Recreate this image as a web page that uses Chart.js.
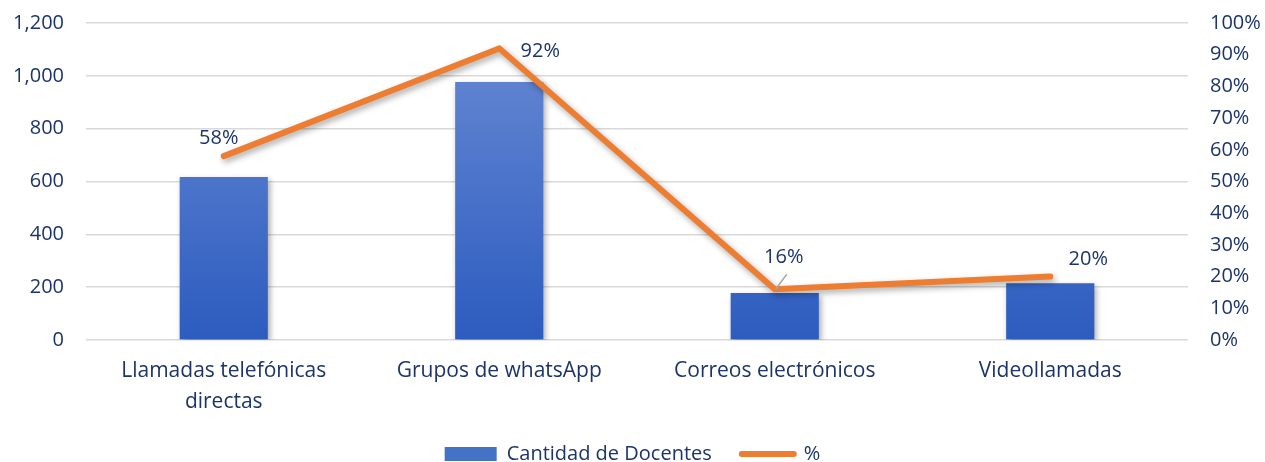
<!DOCTYPE html>
<html><head><meta charset="utf-8">
<script src="https://cdn.jsdelivr.net/npm/chart.js@4.4.0/dist/chart.umd.min.js"></script>
<style>html,body{margin:0;padding:0;background:#fff;}#wrap{width:1265px;height:462px;}</style>
</head><body><div id="wrap"><canvas id="c" width="1265" height="462"></canvas></div>
<script>
const categories = [['Llamadas telefónicas','directas'], 'Grupos de whatsApp', 'Correos electrónicos', 'Videollamadas'];
const docentes = [617, 977, 178, 215];
const porcentaje = [0.58, 0.92, 0.16, 0.20];
const porcentajeLabels = ['58%', '92%', '16%', '20%'];
const leftTicks = [0, 200, 400, 600, 800, 1000, 1200];
const seriesNames = ['Cantidad de Docentes', '%'];

const TEXT = '#1c3468';
const FONT = '"Open Sans", Lato, sans-serif';
const FS = 20;
const FS_CAT = 21;

function barGradient(ctx) {
  const ca = ctx.chart.chartArea;
  if (!ca) return '#4472c4';
  const g = ctx.chart.ctx.createLinearGradient(0, ca.top, 0, ca.bottom);
  g.addColorStop(0, '#6a8bd4');
  g.addColorStop(1, '#2c5cbf');
  return g;
}

const shadowPlugin = {
  id: 'shadow',
  beforeDatasetDraw(chart, args) {
    const c = chart.ctx; c.save();
    c.shadowColor = 'rgba(0,0,0,0.35)'; c.shadowBlur = 6; c.shadowOffsetX = 2; c.shadowOffsetY = 3;
  },
  afterDatasetDraw(chart) { chart.ctx.restore(); }
};

const labelOffsets = [[-5, -18, false], [41, 3, false], [9, -32, true], [38, -17, false]];
const lineLabelPlugin = {
  id: 'lineLabels',
  afterDatasetsDraw(chart) {
    const meta = chart.getDatasetMeta(1);
    const c = chart.ctx; c.save();
    c.font = FS + 'px ' + FONT; c.fillStyle = TEXT; c.textAlign = 'center'; c.textBaseline = 'middle';
    meta.data.forEach((pt, i) => {
      const [dx, dy, leader] = labelOffsets[i];
      if (leader) {
        c.strokeStyle = '#a6a6a6'; c.lineWidth = 1.5;
        c.beginPath(); c.moveTo(pt.x + 1, pt.y); c.lineTo(pt.x + 12, pt.y - 15); c.stroke();
      }
      c.fillText(porcentajeLabels[i], pt.x + dx, pt.y + dy);
    });
    c.restore();
  }
};

const legendFitPlugin = {
  id: 'legendFit',
  afterInit(chart) {
    const lg = chart.legend; const orig = lg.fit;
    lg.fit = function () { orig.call(this); this.height = 48; };
  }
};

new Chart(document.getElementById('c'), {
  data: {
    labels: categories,
    datasets: [
      { type: 'bar', label: seriesNames[0], data: docentes, yAxisID: 'y', backgroundColor: barGradient,
        barPercentage: 0.32, categoryPercentage: 1, order: 2 },
      { type: 'line', label: seriesNames[1], data: porcentaje, yAxisID: 'y1', borderColor: '#ed7d31',
        backgroundColor: '#ed7d31', borderWidth: 6, pointRadius: 0, borderCapStyle: 'round', borderJoinStyle: 'miter', order: 1 }
    ]
  },
  options: {
    responsive: false, animation: false, devicePixelRatio: 1,
    layout: { padding: { top: 23, left: 0, right: 0, bottom: 0 } },
    plugins: {
      tooltip: { enabled: false },
      legend: {
        position: 'bottom',
        labels: {
          color: TEXT, font: { family: FONT, size: FS }, padding: 30,
          usePointStyle: true, pointStyleWidth: 52, boxHeight: 14,
          generateLabels(chart) {
            return [
              { text: seriesNames[0], fillStyle: '#4472c4', strokeStyle: '#4472c4', lineWidth: 0, pointStyle: 'rect', datasetIndex: 0, fontColor: TEXT },
              { text: seriesNames[1], fillStyle: '#ed7d31', strokeStyle: '#ed7d31', lineWidth: 6, lineCap: 'round', pointStyle: 'line', datasetIndex: 1, fontColor: TEXT }
            ];
          }
        }
      }
    },
    scales: {
      x: {
        grid: { display: false, drawTicks: false }, border: { display: false },
        ticks: { color: TEXT, font: { family: FONT, size: FS_CAT, lineHeight: 1.45 }, padding: 16, maxRotation: 0, autoSkip: false },
        afterFit(s) { s.height = 74; }
      },
      y: {
        position: 'left', min: 0, max: 1200,
        grid: { color: '#d9d9d9', lineWidth: 1.5, drawTicks: false }, border: { display: false },
        afterBuildTicks(s) { s.ticks = leftTicks.map(v => ({ value: v })); },
        ticks: { color: TEXT, font: { family: FONT, size: FS }, padding: 22,
          callback: v => v.toLocaleString('en-US') },
        afterFit(s) { s.width = 86; s.paddingTop = 0; s.paddingBottom = 0; }
      },
      y1: {
        position: 'right', min: 0, max: 1,
        grid: { display: false, drawTicks: false }, border: { display: false },
        ticks: { stepSize: 0.1, color: TEXT, font: { family: FONT, size: FS }, padding: 22,
          callback: v => Math.round(v * 100) + '%' },
        afterFit(s) { s.width = 77; s.paddingTop = 0; s.paddingBottom = 0; }
      }
    }
  },
  plugins: [shadowPlugin, lineLabelPlugin, legendFitPlugin]
});
</script></body></html>
